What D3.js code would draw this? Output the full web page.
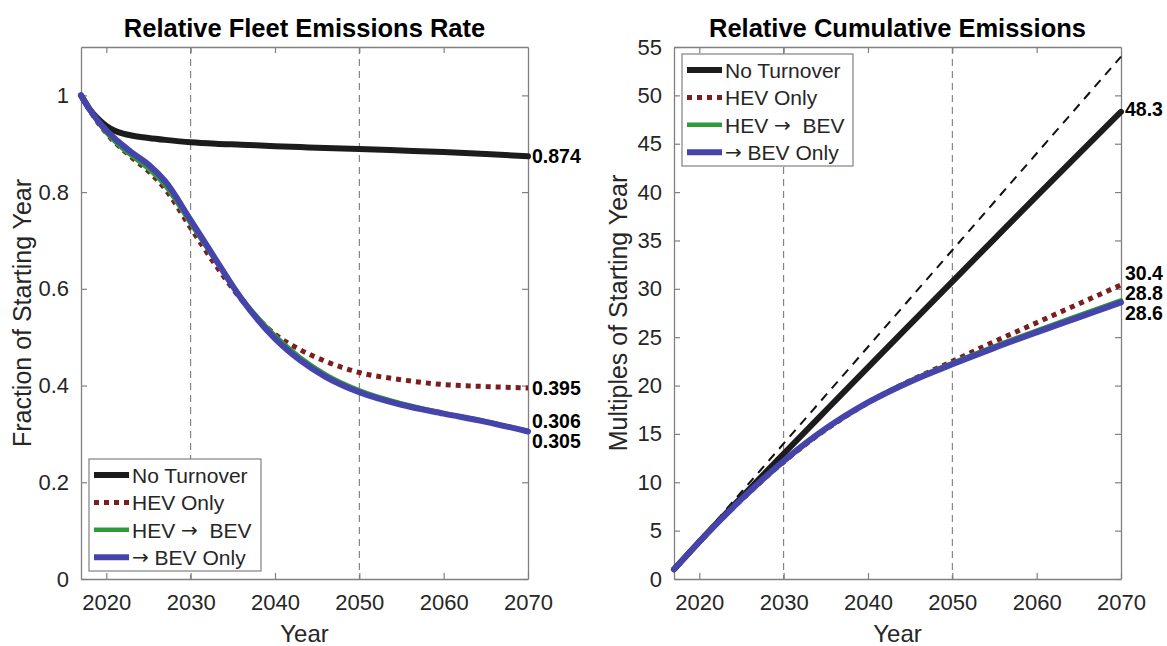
<!DOCTYPE html>
<html>
<head>
<meta charset="utf-8">
<script src="https://cdn.jsdelivr.net/npm/d3@7"></script>
<style>
  html, body { margin: 0; padding: 0; background: #ffffff; }
  svg { display: block; }
  text { font-family: "Liberation Sans", Arial, Helvetica, sans-serif; }
</style>
</head>
<body>
<svg id="chart" width="1167" height="646"></svg>
<script>
// ---- Data -------------------------------------------------------------
// Relative fleet emissions rate (fraction of 2017 level)
const rateYears = [2017, 2018, 2019, 2020, 2021, 2022, 2023, 2025, 2027, 2030, 2033, 2036, 2040, 2043, 2046, 2050, 2055, 2060, 2065, 2070];
const rateNoTurnover = [1.0, 0.972, 0.952, 0.937, 0.927, 0.921, 0.917, 0.912, 0.908, 0.903, 0.900, 0.898, 0.895, 0.893, 0.891, 0.889, 0.886, 0.883, 0.879, 0.874];
const rateHevOnly    = [1.0, 0.970, 0.944, 0.922, 0.903, 0.887, 0.872, 0.843, 0.806, 0.726, 0.648, 0.578, 0.506, 0.474, 0.450, 0.427, 0.412, 0.402, 0.398, 0.395];
const rateHevToBev   = [1.0, 0.970, 0.945, 0.923, 0.905, 0.889, 0.875, 0.848, 0.813, 0.735, 0.657, 0.582, 0.503, 0.458, 0.423, 0.390, 0.363, 0.343, 0.326, 0.306];
const rateBevOnly    = [1.0, 0.972, 0.948, 0.928, 0.911, 0.896, 0.882, 0.857, 0.822, 0.742, 0.660, 0.580, 0.497, 0.452, 0.418, 0.386, 0.360, 0.342, 0.325, 0.305];
const rateEndLabels  = ["0.874", "0.395", "0.306", "0.305"];

// Relative cumulative emissions (multiples of 2017 level)
const cumYears = [2017, 2020, 2025, 2030, 2035, 2040, 2045, 2050, 2055, 2060, 2065, 2070];
const cumNoTurnover = [1, 3.86, 8.45, 12.95, 17.42, 21.88, 26.32, 30.75, 35.17, 39.58, 43.96, 48.3];
const cumHevOnly    = [1, 3.84, 8.18, 12.10, 15.45, 18.22, 20.50, 22.50, 24.55, 26.50, 28.45, 30.4];
const cumHevToBev   = [1, 3.84, 8.20, 12.15, 15.52, 18.28, 20.48, 22.33, 24.05, 25.68, 27.25, 28.8];
const cumBevOnly    = [1, 3.85, 8.25, 12.20, 15.55, 18.25, 20.40, 22.20, 23.90, 25.50, 27.05, 28.6];
const cumEndLabels  = ["48.3", "30.4", "28.8", "28.6"];
// Constant-emissions reference: one year's emissions per elapsed year
const refYears = [2017, 2070];
const refValues = [1, 54];

// Legend names; "→" is set in a separate font run so it renders as a long arrow
const seriesNames = [["No Turnover"], ["HEV Only"], ["HEV ", "\u2192", "  BEV"], ["", "\u2192", " BEV Only"]];
const xTicks = [2020, 2030, 2040, 2050, 2060, 2070];
const markerYears = [2030, 2050];
const rateTicks = [0, 0.2, 0.4, 0.6, 0.8, 1];
const cumTicks = [0, 5, 10, 15, 20, 25, 30, 35, 40, 45, 50, 55];

// ---- Styles -----------------------------------------------------------
const styles = [
  { color: "#1c1c1c", width: 6, dash: null },
  { color: "#7a1e1e", width: 5, dash: "5,5" },
  { color: "#2f9a3a", width: 4.5, dash: null },
  { color: "#4444aa", width: 6, dash: null }
];
const axisColor = "#808080";
const textColor = "#262626";

const svg = d3.select("#chart");

function drawPanel(opt) {
  const { left, right, top, bottom } = opt.box;
  const x = d3.scaleLinear().domain([2017, 2070]).range([left, right]);
  const y = d3.scaleLinear().domain(opt.yDomain).range([bottom, top]);
  const g = svg.append("g");

  // vertical dashed year markers
  g.selectAll("line.marker").data(markerYears).join("line")
    .attr("x1", d => x(d)).attr("x2", d => x(d))
    .attr("y1", top).attr("y2", bottom)
    .attr("stroke", "#6e6e6e").attr("stroke-width", 1)
    .attr("stroke-dasharray", "7,5");

  // box with inward ticks on all four sides
  const tickLen = 6;
  const axB = g.append("g").attr("transform", `translate(0,${bottom})`)
    .call(d3.axisBottom(x).tickValues(xTicks).tickFormat(d3.format("d")).tickSizeInner(-tickLen).tickSizeOuter(0).tickPadding(15));
  const axT = g.append("g").attr("transform", `translate(0,${top})`)
    .call(d3.axisTop(x).tickValues(xTicks).tickFormat("").tickSizeInner(-tickLen).tickSizeOuter(0));
  const axL = g.append("g").attr("transform", `translate(${left},0)`)
    .call(d3.axisLeft(y).tickValues(opt.yTicks).tickFormat(opt.yFormat).tickSizeInner(-tickLen).tickSizeOuter(0).tickPadding(12));
  const axR = g.append("g").attr("transform", `translate(${right},0)`)
    .call(d3.axisRight(y).tickValues(opt.yTicks).tickFormat("").tickSizeInner(-tickLen).tickSizeOuter(0));
  [axB, axT, axL, axR].forEach(a => {
    a.select(".domain").attr("stroke", axisColor).attr("stroke-width", 1.3);
    a.selectAll(".tick line").attr("stroke", axisColor).attr("stroke-width", 1.2);
    a.selectAll(".tick text").attr("fill", textColor).attr("font-size", 22)
      .attr("font-family", "'Liberation Sans', Arial, sans-serif");
  });
  // remove the top/right tick marks sitting exactly on the frame corners
  [axT, axR].forEach(a => a.selectAll(".tick").filter(d => d === 2070 || d === opt.yDomain[1]).remove());

  // optional reference line
  if (opt.reference) {
    g.append("path")
      .datum(opt.reference.years.map((yr, i) => [yr, opt.reference.values[i]]))
      .attr("d", d3.line().x(d => x(d[0])).y(d => y(d[1])))
      .attr("fill", "none").attr("stroke", "#111").attr("stroke-width", 2)
      .attr("stroke-dasharray", "9,7");
  }

  // series
  const line = d3.line().x(d => x(d[0])).y(d => y(d[1])).curve(d3.curveMonotoneX);
  opt.series.forEach((vals, i) => {
    const st = styles[i];
    g.append("path")
      .datum(opt.years.map((yr, j) => [yr, vals[j]]))
      .attr("d", line)
      .attr("fill", "none")
      .attr("stroke", st.color)
      .attr("stroke-width", st.width)
      .attr("stroke-linejoin", "round")
      .attr("stroke-linecap", st.dash ? "butt" : "round")
      .attr("stroke-dasharray", st.dash);
  });

  // end-of-line value labels, spread apart where they would overlap
  const ends = opt.series.map((vals, i) => ({ i, py: y(vals[vals.length - 1]), text: opt.endLabels[i] }));
  const sorted = ends.slice().sort((a, b) => a.py - b.py);
  const gap = 20;
  const groups = [];
  sorted.forEach(e => {
    const last = groups[groups.length - 1];
    if (last && e.py - last[last.length - 1].py < gap) last.push(e); else groups.push([e]);
  });
  groups.forEach(grp => {
    const mean = d3.mean(grp, e => e.py);
    grp.forEach((e, k) => { e.ly = mean + (k - (grp.length - 1) / 2) * gap; });
  });
  g.selectAll("text.endlabel").data(ends).join("text")
    .attr("x", right + 4).attr("y", d => d.ly + opt.labelShift)
    .attr("dominant-baseline", "central")
    .attr("font-size", 19.5).attr("font-weight", "bold").attr("fill", "#000")
    .text(d => d.text);

  // title and axis labels
  g.append("text").attr("x", (left + right) / 2).attr("y", 37)
    .attr("text-anchor", "middle").attr("font-size", 25.5).attr("font-weight", "bold").attr("fill", "#000")
    .text(opt.title);
  g.append("text").attr("x", (left + right) / 2).attr("y", 642)
    .attr("text-anchor", "middle").attr("font-size", 24).attr("fill", textColor)
    .text("Year");
  g.append("text")
    .attr("transform", `translate(${opt.yLabelX},${(top + bottom) / 2}) rotate(-90)`)
    .attr("text-anchor", "middle").attr("font-size", 25).attr("fill", textColor)
    .text(opt.yLabel);

  // legend
  const lg = opt.legend;
  const lgG = g.append("g").attr("transform", `translate(${lg.x},${lg.y})`);
  lgG.append("rect").attr("width", lg.w).attr("height", lg.h)
    .attr("fill", "#fff").attr("stroke", axisColor).attr("stroke-width", 1.2);
  seriesNames.forEach((parts, i) => {
    const cy = 16 + i * 27.4;
    const st = styles[i];
    lgG.append("line").attr("x1", 5).attr("x2", 40).attr("y1", cy).attr("y2", cy)
      .attr("stroke", st.color).attr("stroke-width", st.width)
      .attr("stroke-dasharray", st.dash);
    const t = lgG.append("text").attr("x", 43).attr("y", cy).attr("dominant-baseline", "central")
      .attr("font-size", 21).attr("fill", textColor).attr("xml:space", "preserve")
      .style("white-space", "pre");
    parts.forEach(p => {
      const span = t.append("tspan").text(p);
      if (p === "\u2192") span.attr("font-family", "'DejaVu Sans', sans-serif").attr("font-size", 20);
    });
  });
}

drawPanel({
  box: { left: 81, right: 528, top: 47, bottom: 579 },
  yDomain: [0, 1.1],
  yTicks: rateTicks,
  yFormat: d => d === 0 ? "0" : d === 1 ? "1" : d3.format(".1f")(d),
  years: rateYears,
  series: [rateNoTurnover, rateHevOnly, rateHevToBev, rateBevOnly],
  endLabels: rateEndLabels,
  labelShift: 0,
  title: "Relative Fleet Emissions Rate",
  yLabel: "Fraction of Starting Year",
  yLabelX: 31,
  legend: { x: 89, y: 459, w: 172, h: 112 }
});

drawPanel({
  box: { left: 674, right: 1121, top: 47, bottom: 579 },
  yDomain: [0, 55],
  yTicks: cumTicks,
  yFormat: d3.format("d"),
  years: cumYears,
  series: [cumNoTurnover, cumHevOnly, cumHevToBev, cumBevOnly],
  endLabels: cumEndLabels,
  labelShift: -3,
  title: "Relative Cumulative Emissions",
  yLabel: "Multiples of Starting Year",
  yLabelX: 627,
  legend: { x: 682, y: 54, w: 171, h: 112 },
  reference: { years: refYears, values: refValues }
});
</script>
</body>
</html>
